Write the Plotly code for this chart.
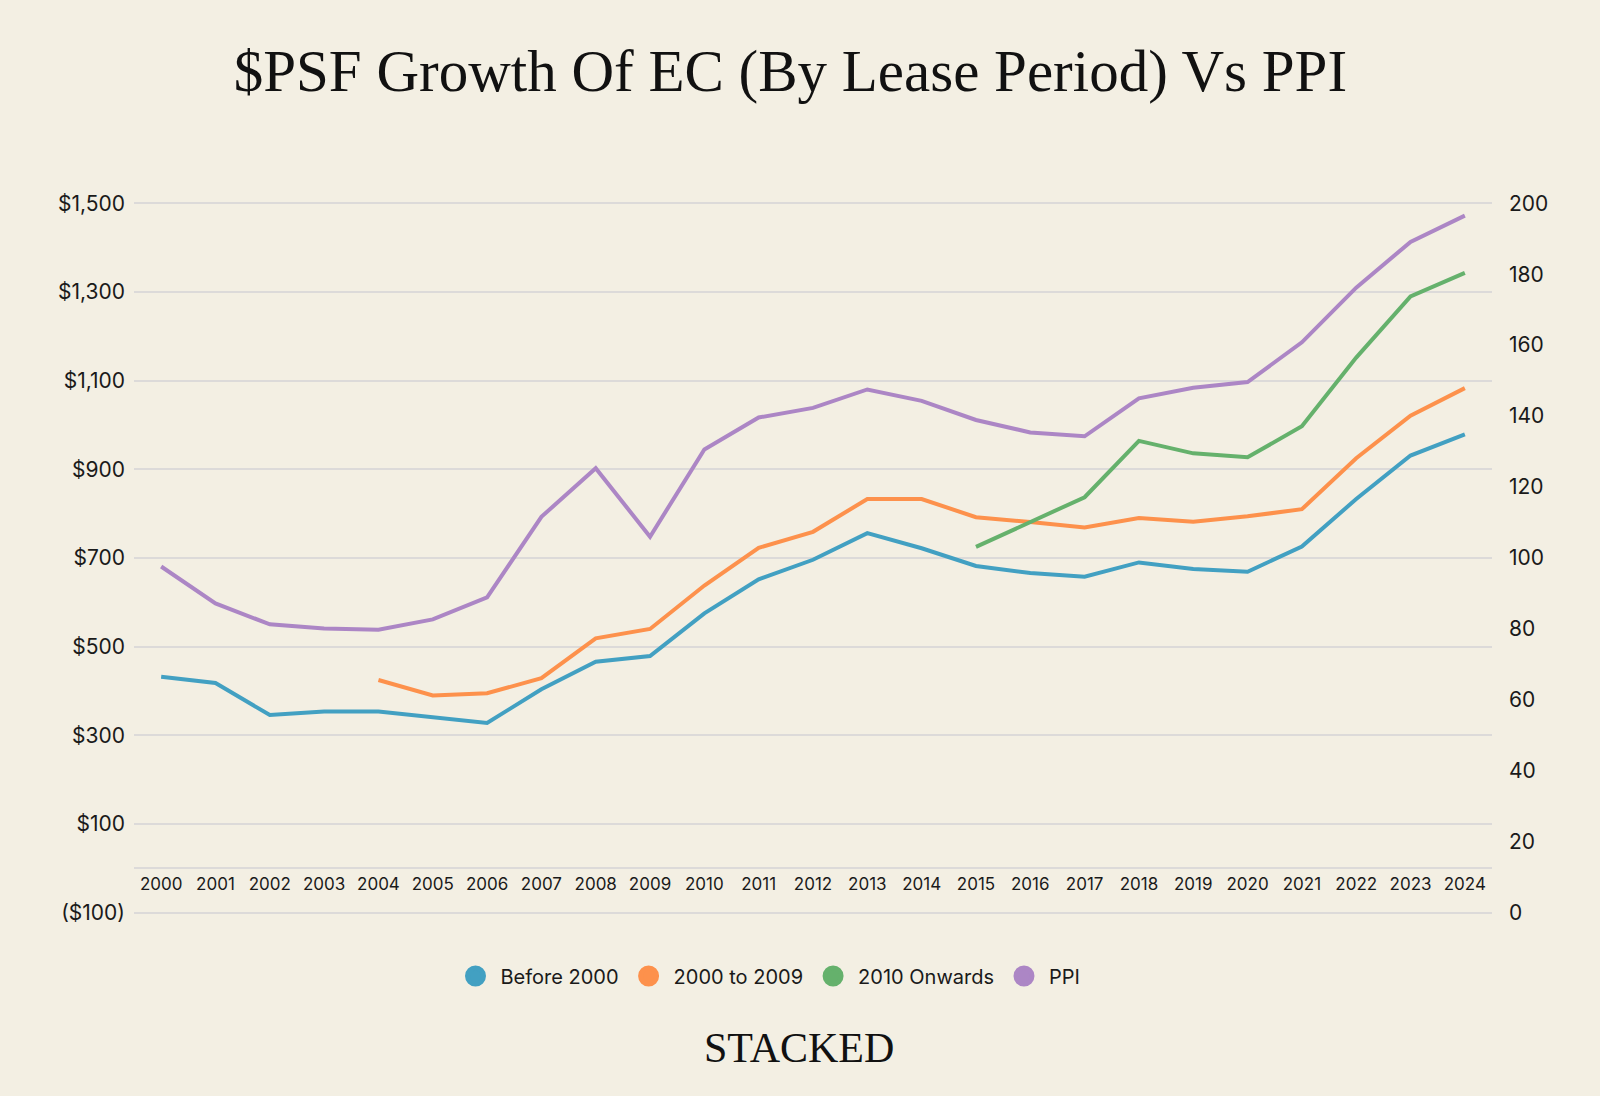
import plotly.graph_objects as go

# ---------------- data ----------------
years = [str(y) for y in range(2000, 2025)]

before_2000 = [432, 418, 346, 354, 354, 342, 328, 404, 466, 479, 575, 652, 696,
               756, 722, 682, 666, 658, 690, 675, 669, 726, 833, 931, 979]
y2000_to_2009 = [None, None, None, None, 425, 390, 395, 429, 519, 540, 638, 723, 759,
                 833, 833, 792, 781, 769, 790, 782, 794, 810, 925, 1021, 1083]
y2010_onwards = [None] * 15 + [725, 781, 837, 964, 936, 927, 997, 1152, 1290, 1343]
ppi = [97.6, 87.2, 81.3, 80.1, 79.8, 82.7, 88.9, 111.6, 125.3, 106.0, 130.6, 139.6, 142.3,
       147.5, 144.3, 138.9, 135.4, 134.3, 145.0, 148.0, 149.6, 160.8, 176.2, 189.1, 196.5]

series_names = ["Before 2000", "2000 to 2009", "2010 Onwards", "PPI"]
series_colors = ["#42A0C2", "#FD914C", "#65B16C", "#AC86C5"]

left_tickvals = [-100, 100, 300, 500, 700, 900, 1100, 1300, 1500]
left_ticktext = ["($100)", "$100", "$300", "$500", "$700", "$900", "$1,100", "$1,300", "$1,500"]
right_tickvals = list(range(0, 201, 20))
left_min, left_max = -100, 1500
right_min, right_max = 0, 200

title_text = "$PSF Growth Of EC (By Lease Period) Vs PPI"
brand_text = "STACKED"

# ---------------- styling ----------------
BG = "#F3EFE3"
GRID = "#DCDAD9"
TXT = "#1A1A1A"
SANS = "Inter, Lato, sans-serif"
SERIF = "Liberation Serif, DejaVu Serif, serif"

# small padding so the edge gridlines ($1,500 and ($100)) are drawn
pad = 5
ratio = (right_max - right_min) / (left_max - left_min)
left_range = [left_min - pad, left_max + pad]
right_range = [right_min - pad * ratio, right_max + pad * ratio]

fig = go.Figure()

left_series = [before_2000, y2000_to_2009, y2010_onwards]
for vals, name, col in zip(left_series, series_names[:3], series_colors[:3]):
    fig.add_trace(go.Scatter(x=years, y=vals, mode="lines", name=name,
                             line=dict(color=col, width=4), showlegend=False,
                             connectgaps=False, yaxis="y"))
fig.add_trace(go.Scatter(x=years, y=ppi, mode="lines", name=series_names[3],
                         line=dict(color=series_colors[3], width=4), showlegend=False,
                         yaxis="y2"))

# legend-only entries (circle symbols)
for name, col in zip(series_names, series_colors):
    fig.add_trace(go.Scatter(x=[None], y=[None], mode="markers", name=name,
                             marker=dict(size=16, color=col,
                                         line=dict(color=col, width=5)),
                             showlegend=True))

zero_pos = (0 - left_range[0]) / (left_range[1] - left_range[0])

fig.update_layout(
    width=1600, height=1096,
    paper_bgcolor=BG, plot_bgcolor=BG,
    margin=dict(l=134, r=108, t=201, b=181),
    title=dict(text=title_text, x=0.494, xref="container", y=1 - 70 / 1096,
               yref="container", xanchor="center", yanchor="middle",
               font=dict(family=SERIF, size=59, color="#111111")),
    xaxis=dict(type="category", range=[-0.5, 24.5], showgrid=False,
               showline=True, linecolor=GRID, linewidth=1.5,
               anchor="free", position=zero_pos,
               tickfont=dict(family=SANS, size=17, color=TXT),
               ticks="", zeroline=False),
    yaxis=dict(range=left_range, tickvals=left_tickvals, ticktext=left_ticktext,
               showgrid=True, gridcolor=GRID, gridwidth=1.5, zeroline=False,
               showline=False, ticklabelstandoff=8,
               tickfont=dict(family=SANS, size=21, color=TXT)),
    yaxis2=dict(range=right_range, tickvals=right_tickvals, overlaying="y",
                side="right", showgrid=False, zeroline=False, showline=False,
                ticklabelstandoff=16,
                tickfont=dict(family=SANS, size=21, color=TXT)),
    legend=dict(orientation="h", xref="container", yref="container",
                x=768 / 1600, y=1 - 976 / 1096, xanchor="center", yanchor="middle",
                font=dict(family=SANS, size=20, color=TXT), itemsizing="trace",
                itemwidth=40, bgcolor="rgba(0,0,0,0)"),
    annotations=[dict(text=brand_text, xref="paper", yref="paper",
                      x=(799 - 134) / 1358, y=-(1048 - 915) / 714,
                      xanchor="center", yanchor="middle", showarrow=False,
                      font=dict(family=SERIF, size=42, color="#111111"))],
)

fig.write_html("out.html")
